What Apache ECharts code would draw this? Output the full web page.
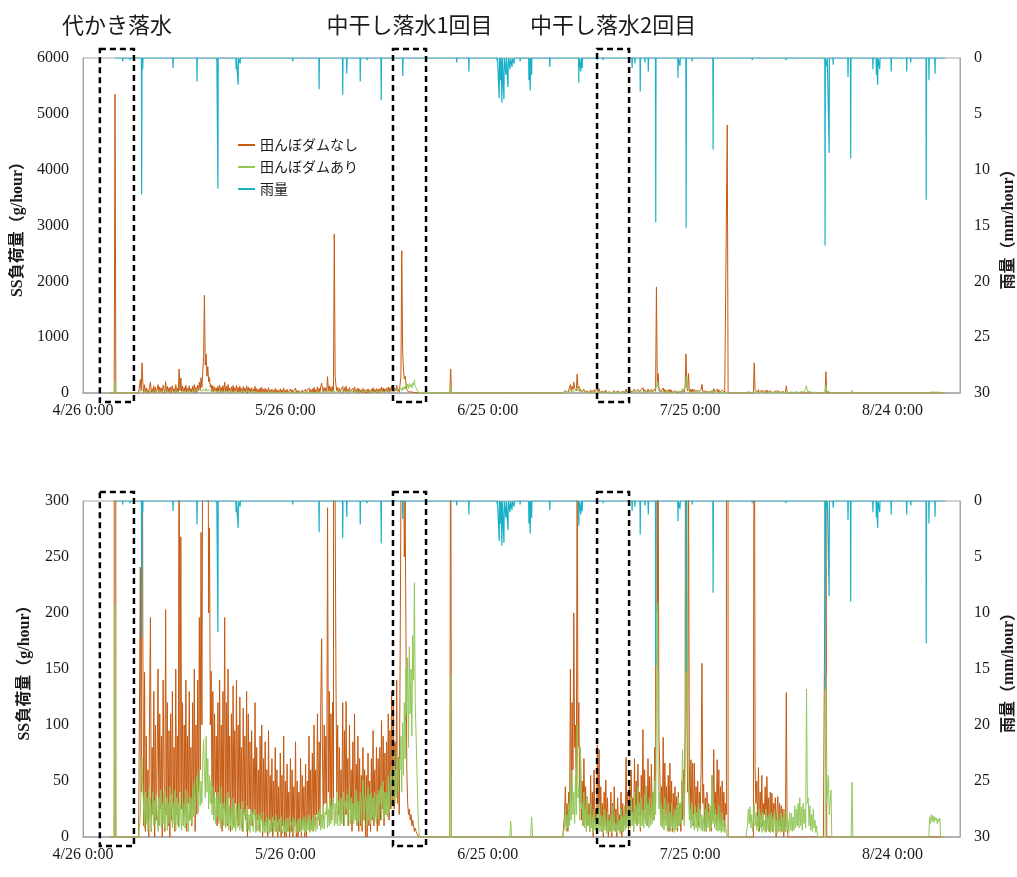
<!DOCTYPE html>
<html><head><meta charset="utf-8">
<script src="https://cdn.jsdelivr.net/npm/echarts@6/dist/echarts.min.js"></script>
<style>html,body{margin:0;padding:0;background:#fff}#c{width:1017px;height:877px}</style>
</head><body><div id="c"></div>
<script>
// x values are days counted from 4/26 0:00
const xTickLabels = ['4/26 0:00','5/26 0:00','6/25 0:00','7/25 0:00','8/24 0:00'];
const seriesNames = ['田んぼダムなし','田んぼダムあり','雨量'];
const eventLabels = ['代かき落水','中干し落水1回目','中干し落水2回目'];
const eventRanges = [[2.5,7.55],[45.95,50.85],[76.2,80.95]];
const STEP = 0.125; // 3-hour samples in the dense stretches

// ---- SS load without paddy dam (g/hour) ----
const noneEarly = [[4.0,0],[4.625,0],[4.75,5350],[4.875,0],[7.875,0]];
const noneA = [ // day 8 .. 49, 8 samples per day
0,0,0,0,241,40,540,177,
10,147,5,90,15,60,0,120,
196,5,80,20,130,0,100,15,
70,150,10,110,25,90,0,140,
60,5,203,20,120,10,95,0,
110,15,130,25,80,5,150,20,
90,10,430,40,268,25,120,10,
100,20,140,5,90,30,130,15,
80,10,120,25,150,5,100,20,
140,40,196,60,272,100,380,650,
1750,500,700,300,470,200,276,100,
148,30,130,20,110,40,90,10,
120,15,140,30,100,5,130,25,
196,20,120,10,150,35,90,5,
110,20,135,10,95,30,140,15,
100,10,125,25,80,5,115,20,
90,15,130,0,110,25,85,10,
95,10,70,20,120,5,80,15,
60,5,90,15,100,0,70,10,
85,10,60,0,95,15,55,5,
70,0,50,10,80,5,60,0,
45,5,75,0,55,10,90,0,
50,0,65,5,40,0,70,5,
60,0,45,10,85,0,50,0,
40,5,70,0,55,10,45,0,
65,0,50,15,90,5,60,10,
75,5,100,10,60,20,110,15,
85,10,120,177,70,15,100,30,
90,20,294,40,130,25,110,15,
120,30,2850,300,140,40,100,20,
80,15,60,25,120,10,95,20,
121,20,70,10,100,25,60,5,
85,15,110,20,65,10,90,5,
70,10,55,5,80,15,60,0,
55,0,75,10,50,5,70,15,
95,10,60,20,80,5,70,10,
80,15,104,25,90,10,75,20,
85,20,110,15,95,25,130,30,
120,25,85,40,140,30,71,20,
150,300,2550,800,420,250,300,180,
60,30,20,25,15,20,10,15,
10,5,8,5,3,2,0,0
];
const noneMid = [[50.0,0],[54.375,0],[54.5,430],[54.625,0],[70.375,0]];
const noneB = [ // day 70.5 .. 95.875
0,0,0,0,
0,0,0,20,45,10,30,5,
40,15,150,30,120,60,200,80,
100,40,340,80,120,30,70,15,
50,10,70,20,45,5,36,10,
30,5,55,10,40,0,60,15,
25,5,82,20,78,10,45,5,
30,0,40,10,51,5,35,0,
20,5,40,0,30,10,45,5,
25,0,35,10,20,5,40,0,
30,5,25,10,71,15,40,5,
45,10,60,20,35,5,70,15,
50,10,65,25,40,5,55,20,
96,15,60,25,45,10,70,20,
54,10,65,20,40,15,80,30,
1900,200,350,90,60,20,45,10,
89,15,66,20,45,10,55,5,
66,10,50,5,39,15,45,10,
36,5,40,10,30,5,50,15,
60,20,100,700,120,40,350,69,
20,69,15,66,10,66,20,45,
15,50,10,40,20,60,155,30,
47,10,35,5,40,15,30,10,
25,5,55,15,78,20,40,10,
69,15,60,10,45,5,50,15,
40,10,30,20,4800,0,0,0
];
const noneMid2 = [[96.0,0],[97.875,0]];
const noneC = [ // day 98 .. 109.875
0,0,0,0,0,0,0,0,
0,0,0,0,540,60,30,50,
10,62,5,40,15,55,10,30,
20,45,5,54,15,35,5,40,
10,39,5,30,20,35,0,25,
36,5,30,10,28,5,25,0,
20,5,129,10,0,0,0,0,
0,0,0,0,0,0,0,0,
0,0,0,0,0,0,0,0,
0,0,0,0,0,0,0,0,
0,0,0,0,0,0,0,0,
0,0,0,0,0,0,0,0
];
const noneLate = [[110.0,0],[110.125,380],[110.25,0],[127.75,0]];

// ---- SS load with paddy dam (g/hour) ----
const damEarly = [[4.0,0],[4.625,0],[4.75,207],[4.875,0],[7.875,0]];
const damA = [ // day 8 .. 49
0,0,0,0,20,50,71,40,
25,8,40,12,35,5,45,15,
35,6,28,40,10,32,12,38,
20,5,35,10,42,8,30,12,
40,8,28,35,6,30,12,45,
18,38,8,30,12,42,6,35,
12,30,8,40,18,6,35,10,
30,8,42,12,28,5,38,15,
35,12,45,18,50,20,40,55,
45,22,60,28,50,30,70,87,
60,35,90,40,70,25,55,30,
50,20,45,15,40,12,35,18,
40,12,35,8,45,15,30,10,
35,8,30,12,40,6,28,10,
25,6,35,8,28,5,30,8,
20,30,6,25,8,32,5,22,
18,25,5,28,6,20,4,25,
15,22,5,18,25,4,20,6,
12,20,4,16,22,5,15,4,
14,4,18,5,20,3,16,5,
12,18,3,15,5,20,4,14,
10,16,4,18,6,3,15,5,
14,4,17,5,12,18,4,13,
11,16,4,14,18,4,12,15,
5,17,12,4,15,6,18,4,
14,5,18,6,20,4,15,6,
16,6,20,8,5,18,7,22,
15,25,6,20,8,28,7,22,
20,30,8,25,10,35,12,28,
25,35,10,30,12,40,10,32,
30,10,35,12,28,40,10,32,
25,38,10,30,45,12,35,15,
30,12,38,15,42,10,32,14,
28,40,12,35,51,15,25,38,
32,10,45,15,38,12,40,18,
35,15,40,18,12,38,16,42,
30,45,15,38,50,16,40,20,
40,18,55,22,45,60,25,50,
45,75,30,60,35,80,40,70,
60,90,40,102,55,120,70,150,
110,160,80,170,110,150,90,180,
140,227,120,90,60,30,10,0
];
const damMid = [[50.0,0],[54.375,0],[54.5,145],[54.625,0],[63.25,0],[63.4,14],[63.55,0],
  [66.35,0],[66.5,18],[66.65,0],[70.375,0]];
const damB = [ // day 70.5 .. 95.875
0,0,0,0,
0,0,0,10,25,5,20,8,
30,10,45,15,60,20,40,12,
55,20,100,35,45,15,80,25,
30,10,40,8,25,5,35,10,
20,5,30,8,18,4,25,6,
15,4,25,8,30,5,20,6,
18,4,25,6,15,3,22,5,
15,5,20,4,28,6,18,5,
12,4,20,6,15,3,25,5,
18,5,28,6,20,8,30,10,
25,8,35,10,22,6,40,12,
28,10,45,12,30,8,35,10,
24,8,38,12,45,10,30,8,
35,10,28,12,40,15,50,20,
120,209,60,25,40,10,30,8,
25,6,35,10,20,5,30,8,
22,5,30,8,18,4,25,6,
28,8,35,10,30,12,40,78,
30,10,60,150,300,90,40,15,
25,8,30,10,20,6,28,8,
22,5,30,8,25,6,20,5,
18,5,25,6,30,8,22,5,
28,8,55,12,30,8,25,6,
20,5,28,6,18,4,22,5,
15,4,12,3,0,0,0,0
];
const damMid2 = [[96.0,0],[97.875,0]];
const damC = [ // day 98 .. 109.875
0,0,0,0,10,25,12,27,
8,20,5,15,30,10,22,6,
18,5,25,8,20,4,22,6,
15,4,25,6,18,5,20,4,
22,5,18,4,25,6,15,3,
20,5,15,4,22,6,18,5,
25,6,20,5,15,4,22,6,
21,5,18,6,28,8,25,10,
30,8,35,10,27,6,30,12,
25,8,132,30,35,10,28,6,
20,5,25,8,15,4,10,0,
0,0,0,0,0,0,0,0
];
const damLate = [[110.0,0],[110.125,145],[110.25,30],[110.5,55],[110.625,20],[110.875,42],[111.0,0],
  [113.875,0],[114.0,49],[114.125,0],[125.375,0],[125.5,18],[125.625,12],[125.75,20],[125.875,14],
  [126.0,19],[126.125,13],[126.25,18],[126.375,15],[126.5,17],[126.625,12],[126.75,16],[126.875,14],
  [127.0,17],[127.125,0],[127.75,0]];

// ---- rainfall events: [day offset, mm/hour]; hours in between had no rain ----
const rainStartDay = 4.75, rainEndDay = 127.8;
const rainEvents = [
[5.88,0.3],[6.97,0.2],[8.70,12.2],[8.85,1.0],[13.34,0.9],[16.9,2.1],[19.8,0.2],[20.0,11.7],
[22.7,1.0],[23.0,2.4],[23.3,0.5],[31.1,0.3],[35.0,2.8],[38.5,3.3],[39.1,1.4],[41.1,2.1],
[42.1,0.2],[44.2,3.8],[46.0,0.2],[47.4,1.6],[55.4,0.4],[57.2,1.2],[61.4,0.3],[61.7,3.6],
[61.9,2.0],[62.1,4.0],[62.4,3.7],[62.7,1.5],[63.0,2.6],[63.3,1.0],[63.6,0.8],[63.9,0.5],
[64.8,0.3],[66.1,2.0],[66.3,2.9],[66.5,1.5],[69.2,0.8],[73.5,2.2],[73.8,1.2],[74.0,0.9],
[76.2,0.2],[77.1,0.2],[81.4,0.9],[81.8,0.5],[82.6,3.0],[83.3,0.4],[83.8,1.2],[84.9,14.7],
[88.2,1.8],[88.5,0.7],[89.4,15.2],[90.3,0.3],[93.4,8.2],[99.2,0.2],[104.2,0.2],[110.0,16.8],
[110.3,0.8],[110.6,8.5],[111.2,0.6],[113.4,1.7],[113.8,9.0],[117.1,1.0],[117.6,1.5],[117.8,2.4],
[118.1,1.0],[119.8,1.2],[122.1,1.2],[122.7,0.4],[125.0,12.7],[125.4,2.0],[126.3,1.4]
];

const C_NONE = '#C55A11', C_DAM = '#92C85A', C_RAIN = '#1AB0C8';
const AXIS_GREY = '#A6A6A6';
const SERIF = '"Liberation Serif","Noto Sans CJK JP",serif';
const JP = '"Noto Sans CJK JP","Liberation Serif",sans-serif';

function seg(start, values){ return values.map((v,i)=>[start + i*STEP, v]); }
const ssNoneData = [].concat(noneEarly, seg(8,noneA), noneMid, seg(70.5,noneB), noneMid2, seg(98,noneC), noneLate);
const ssDamData = [].concat(damEarly, seg(8,damA), damMid, seg(70.5,damB), damMid2, seg(98,damC), damLate);
const rainData = [[rainStartDay,0]];
rainEvents.forEach(([d,v])=>{ rainData.push([d-0.04,0],[d,v],[d+0.04,0]); });
rainData.push([rainEndDay,0]);

const grids = [
  {left:83, right:57, top:58, height:335},
  {left:83, right:57, top:501, height:336}
];
const leftMax = [6000, 300], leftInt = [1000, 50];

function xAxis(i){
  return {type:'value', gridIndex:i, min:0, max:130, interval:30,
    axisLine:{show:true, lineStyle:{color:AXIS_GREY, width:1.5}},
    axisTick:{show:false}, splitLine:{show:false},
    axisLabel:{color:'#1a1a1a', fontFamily:SERIF, fontSize:16, margin:10, showMaxLabel:false,
      formatter:(v)=>{ const k=Math.round(v/30); return (Math.abs(v-k*30)<1e-6 && xTickLabels[k])?xTickLabels[k]:''; }}};
}
function yLeft(i){
  return {type:'value', gridIndex:i, min:0, max:leftMax[i], interval:leftInt[i], position:'left',
    name:'SS負荷量（g/hour）', nameLocation:'middle', nameGap:50,
    nameTextStyle:{fontFamily:SERIF, fontSize:16, fontWeight:'bold', color:'#1a1a1a'},
    axisLine:{show:true, lineStyle:{color:AXIS_GREY}}, axisTick:{show:false}, splitLine:{show:false},
    axisLabel:{color:'#1a1a1a', fontFamily:SERIF, fontSize:16, margin:14, formatter:(v)=>String(v)}};
}
function yRight(i){
  return {type:'value', gridIndex:i, min:0, max:30, interval:5, position:'right', inverse:true,
    name:'雨量（mm/hour）', nameLocation:'middle', nameGap:31,
    nameTextStyle:{fontFamily:SERIF, fontSize:16, fontWeight:'bold', color:'#1a1a1a'},
    axisLine:{show:true, lineStyle:{color:AXIS_GREY}}, axisTick:{show:false}, splitLine:{show:false},
    axisLabel:{color:'#1a1a1a', fontFamily:SERIF, fontSize:16, margin:14, formatter:(v)=>String(v)}};
}
function lineSeries(name, data, color, xi, yi, w){
  return {name, type:'line', data, xAxisIndex:xi, yAxisIndex:yi, showSymbol:false, symbol:'none',
    lineStyle:{color, width:w}, itemStyle:{color}, animation:false, clip:true, silent:true};
}

const chart = echarts.init(document.getElementById('c'), null, {renderer:'canvas'});
chart.setOption({
  animation:false,
  backgroundColor:'#fff',
  grid: grids.map(g=>Object.assign({show:true, borderColor:AXIS_GREY, borderWidth:1, backgroundColor:'transparent',
    containLabel:false, outerBoundsMode:'none'}, g)),
  xAxis:[xAxis(0), xAxis(1)],
  yAxis:[yLeft(0), yRight(0), yLeft(1), yRight(1)],
  legend:{orient:'vertical', left:233, top:133, itemWidth:17, itemHeight:2, itemGap:8, icon:'rect',
    textStyle:{fontFamily:JP, fontSize:14, color:'#1a1a1a'}, data:seriesNames, selectedMode:false},
  series:[
    lineSeries(seriesNames[0], ssNoneData, C_NONE, 0, 0, 1),
    lineSeries(seriesNames[1], ssDamData, C_DAM, 0, 0, 1),
    lineSeries(seriesNames[2], rainData, C_RAIN, 0, 1, 1.2),
    lineSeries(seriesNames[0], ssNoneData, C_NONE, 1, 2, 1),
    lineSeries(seriesNames[1], ssDamData, C_DAM, 1, 2, 1),
    lineSeries(seriesNames[2], rainData, C_RAIN, 1, 3, 1.2)
  ]
});

// event boxes and their labels, positioned from axis values
const graphics = [];
[0,1].forEach(gi=>{
  const yTop = chart.convertToPixel({yAxisIndex: gi*2}, leftMax[gi]);
  const yBot = chart.convertToPixel({yAxisIndex: gi*2}, 0);
  eventRanges.forEach((r,k)=>{
    const x0 = chart.convertToPixel({xAxisIndex: gi}, r[0]);
    const x1 = chart.convertToPixel({xAxisIndex: gi}, r[1]);
    graphics.push({type:'rect', z:100, shape:{x:x0, y:yTop-9, width:x1-x0, height:(yBot-yTop)+18},
      style:{fill:'none', stroke:'#000', lineWidth:2.5, lineDash:[6,4]}});
    if (gi===0) {
      graphics.push({type:'text', z:100, x:(x0+x1)/2, y:25,
        style:{text:eventLabels[k], fill:'#1a1a1a', font:'22px '+JP, textAlign:'center', textVerticalAlign:'middle'}});
    }
  });
});
chart.setOption({graphic:graphics});
</script>
</body></html>
